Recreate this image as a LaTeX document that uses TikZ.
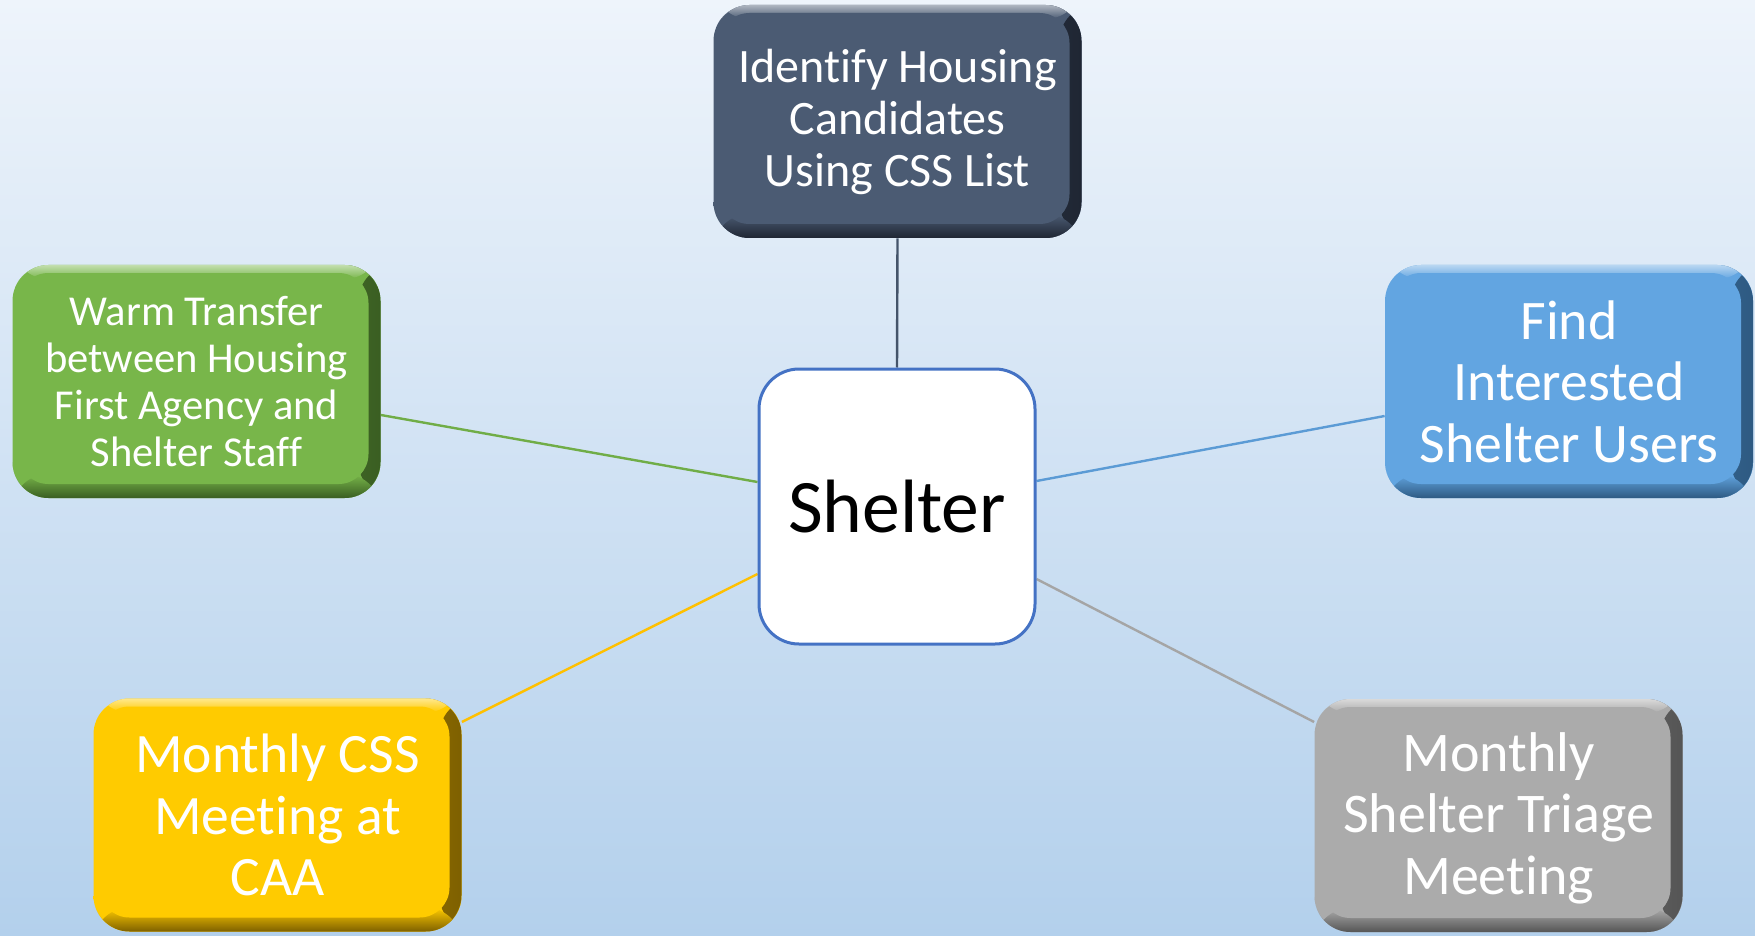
\documentclass[tikz,border=0pt]{standalone}
\usepackage{fontspec}
\setmainfont{Carlito}[Ligatures=NoCommon]
\usetikzlibrary{backgrounds}
\definecolor{bgtop}{HTML}{EEF4FB}
\definecolor{bgbot}{HTML}{B3D0EC}
\definecolor{cslate}{HTML}{4B5B73}
\definecolor{cslated}{HTML}{1F2633}
\definecolor{cgreen}{HTML}{78B64A}
\definecolor{cgreend}{HTML}{3A5E22}
\definecolor{cblue}{HTML}{62A5E1}
\definecolor{cblued}{HTML}{2E5A82}
\definecolor{cyellow}{HTML}{FFCB00}
\definecolor{cyellowd}{HTML}{7E6000}
\definecolor{cgray}{HTML}{ABABAB}
\definecolor{cgrayd}{HTML}{555555}
\definecolor{lslate}{HTML}{44546A}
\definecolor{lgreen}{HTML}{70AD47}
\definecolor{lblue}{HTML}{5B9BD5}
\definecolor{lyellow}{HTML}{FFC000}
\definecolor{lgray}{HTML}{A5A5A5}
\definecolor{cborder}{HTML}{4472C4}
\tikzset{
  bevbox/.style 2 args={rounded corners=18pt, minimum width=184pt, minimum height=116.5pt,
    inner sep=0pt, align=center, text=white, fill=#1,
    path picture={
      \shade[left color=#1, right color=#2]
        ([xshift=-11pt]path picture bounding box.north east) rectangle
        (path picture bounding box.south east);
      \shade[top color=#1, bottom color=#2]
        ([yshift=12pt]path picture bounding box.south west) rectangle
        (path picture bounding box.south east);
      \shade[top color=#1!45!white, bottom color=#1]
        (path picture bounding box.north west) rectangle
        ([yshift=-7pt]path picture bounding box.north east);
      \fill[#1, rounded corners=15pt]
        ([shift={(3pt,-4pt)}]path picture bounding box.north west) rectangle
        ([shift={(-6pt,7pt)}]path picture bounding box.south east);
    }},
  conn/.style={line width=1.2pt}
}
\begin{document}
\begin{tikzpicture}[x=0.5pt,y=-0.5pt]
\useasboundingbox (0,0) rectangle (1755,936);
\node[bevbox={cslate}{cslated}, font=\fontsize{24}{26}\selectfont] (t) at (897.5,121.5)
  {Identify Housing\\Candidates\\Using CSS List};
\node[bevbox={cgreen}{cgreend}, font=\fontsize{21.3}{23.5}\selectfont] (g) at (196.5,381.5)
  {Warm Transfer\\between Housing\\First Agency and\\Shelter Staff};
\node[bevbox={cblue}{cblued}, font=\fontsize{27.9}{30.8}\selectfont] (b) at (1569,381.5)
  {Find\\Interested\\Shelter Users};
\node[bevbox={cyellow}{cyellowd}, font=\fontsize{27.8}{30.8}\selectfont] (y) at (277.5,815)
  {Monthly CSS\\Meeting at\\CAA};
\node[bevbox={cgray}{cgrayd}, font=\fontsize{28}{30.8}\selectfont, text depth=2pt] (r) at (1498.5,815.5)
  {Monthly\\Shelter Triage\\Meeting};
\node[draw=cborder, line width=1.5pt, fill=white, rounded corners=20pt,
  minimum width=138pt, minimum height=137.5pt, inner sep=0pt,
  font=\fontsize{37.8}{44}\selectfont] (c) at (897,506.5) {Shelter};
\begin{scope}[on background layer]
  \shade[top color=bgtop, bottom color=bgbot] (0,0) rectangle (1755,936);
  \draw[conn, lslate] (t.south) -- (c.north);
  \draw[conn, lgreen] ([yshift=12.25pt]c.west) -- ([yshift=-16.75pt]g.east);
  \draw[conn, lblue] ([yshift=12.75pt]c.east) -- ([yshift=-17.25pt]b.west);
  \draw[conn, lyellow] ([yshift=-33.75pt]c.west) -- ([yshift=46.5pt]y.east);
  \draw[conn, lgray] ([yshift=-36.25pt]c.east) -- ([yshift=46.75pt]r.west);
\end{scope}
\end{tikzpicture}
\end{document}
